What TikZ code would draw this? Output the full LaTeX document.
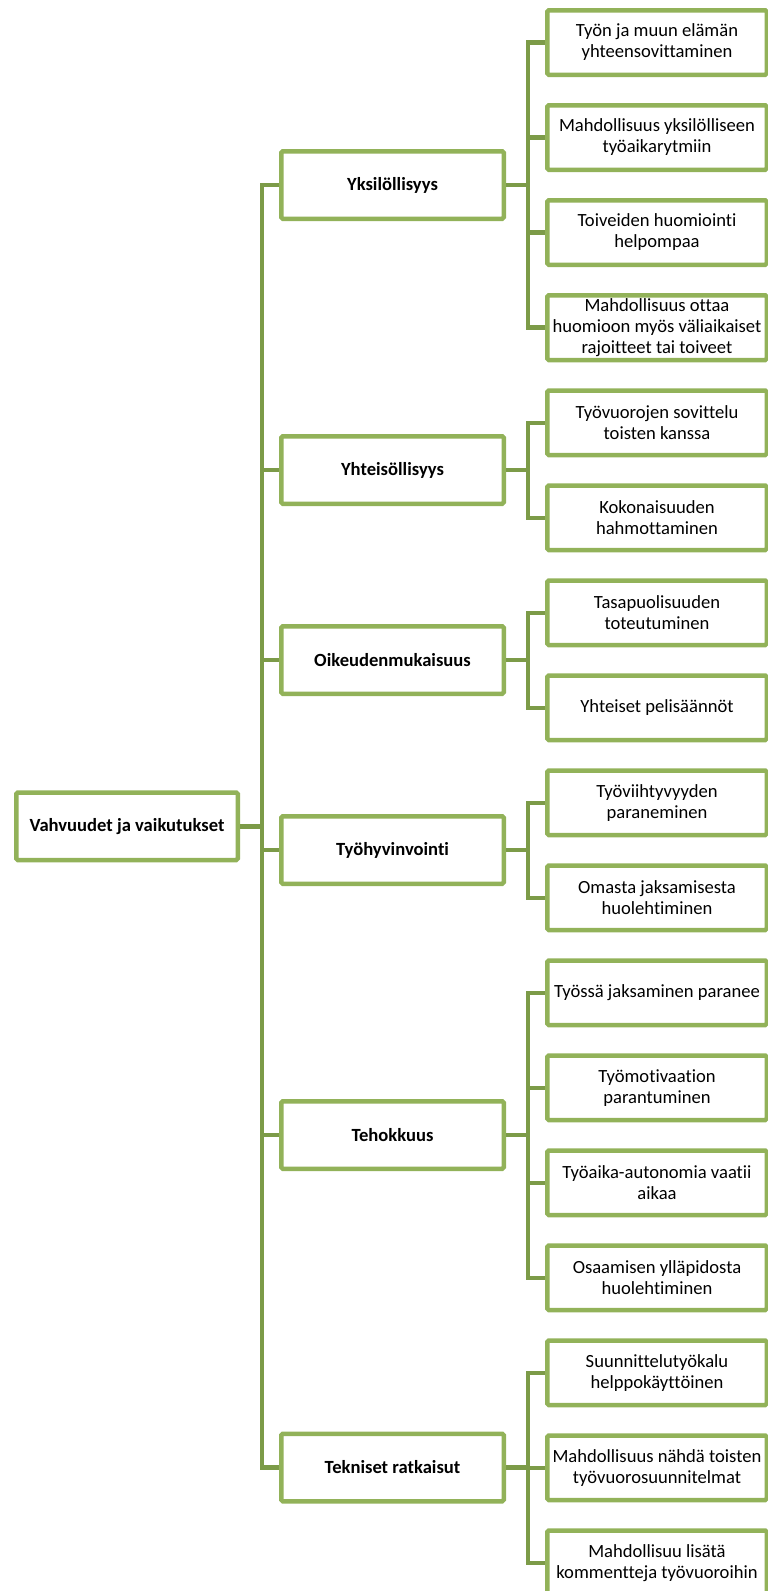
\documentclass[tikz,border=0pt]{standalone}
\usepackage{fontspec}
\setmainfont[Ligatures={NoCommon}]{Carlito}
\usepackage{xcolor}
\definecolor{boxgreen}{HTML}{92B259}
\definecolor{linegreen}{HTML}{7C9B48}
\usepackage{tikz}
\usetikzlibrary{positioning}

\begin{document}
\begin{tikzpicture}[
    x=1pt, y=-1pt,
    node distance=26pt,
    mainbox/.style={
        rectangle, draw=boxgreen, line width=4.5pt, rounded corners=1.5pt,
        fill=white, minimum width=221.5pt, minimum height=67.5pt,
        align=center, font=\fontsize{18.6}{21}\selectfont\bfseries
    },
    topic/.style={mainbox, minimum width=222.5pt},
    leaf/.style={
        rectangle, draw=boxgreen, line width=4.5pt, rounded corners=1.5pt,
        fill=white, minimum width=219.5pt, minimum height=64.5pt,
        inner xsep=2pt, align=center, font=\fontsize{18.6}{21}\selectfont
    },
    conn/.style={draw=linegreen, line width=4.5pt}
]
\useasboundingbox (0,0) rectangle (768,1591);
\clip (0,0) rectangle (768,1591);

% --- Juuri ja pääkohdat ---
\node[mainbox] (root) at (127,826.25) {Vahvuudet ja vaikutukset};
\node[topic] (yks) at (392.5,185)   {Yksilöllisyys};
\node[topic] (yht) at (392.5,470)   {Yhteisöllisyys};
\node[topic] (oik) at (392.5,660)   {Oikeudenmukaisuus};
\node[topic] (hyv) at (392.5,850)   {Työhyvinvointi};
\node[topic] (teh) at (392.5,1135)  {Tehokkuus};
\node[topic] (tek) at (392.5,1467.5) {Tekniset ratkaisut};

% --- Alakohdat ---
\node[leaf] (l1) at (657,42.5) {Työn ja muun elämän\\yhteensovittaminen};
\node[leaf, below=of l1] (l2) {Mahdollisuus yksilölliseen\\työaikarytmiin};
\node[leaf, below=of l2] (l3) {Toiveiden huomiointi\\helpompaa};
\node[leaf, below=of l3] (l4) {Mahdollisuus ottaa\\huomioon myös väliaikaiset\\rajoitteet tai toiveet};
\node[leaf, below=of l4] (l5) {Työvuorojen sovittelu\\toisten kanssa};
\node[leaf, below=of l5] (l6) {Kokonaisuuden\\hahmottaminen};
\node[leaf, below=of l6] (l7) {Tasapuolisuuden\\toteutuminen};
\node[leaf, below=of l7] (l8) {Yhteiset pelisäännöt};
\node[leaf, below=of l8] (l9) {Työviihtyvyyden\\paraneminen};
\node[leaf, below=of l9] (l10) {Omasta jaksamisesta\\huolehtiminen};
\node[leaf, below=of l10] (l11) {Työssä jaksaminen paranee};
\node[leaf, below=of l11] (l12) {Työmotivaation\\parantuminen};
\node[leaf, below=of l12] (l13) {Työaika-autonomia vaatii\\aikaa};
\node[leaf, below=of l13] (l14) {Osaamisen ylläpidosta\\huolehtiminen};
\node[leaf, below=of l14] (l15) {Suunnittelutyökalu\\helppokäyttöinen};
\node[leaf, below=of l15] (l16) {Mahdollisuus nähdä toisten\\työvuorosuunnitelmat};
\node[leaf, below=of l16] (l17) {Mahdollisuu lisätä\\kommentteja työvuoroihin};

% --- Yhteydet ---
\foreach \t in {yks,yht,oik,hyv,teh,tek}
    \draw[conn] (root.east) -- ++(21.75,0) |- (\t.west);
\foreach \t/\l in {yks/l1,yks/l2,yks/l3,yks/l4,
                   yht/l5,yht/l6,
                   oik/l7,oik/l8,
                   hyv/l9,hyv/l10,
                   teh/l11,teh/l12,teh/l13,teh/l14,
                   tek/l15,tek/l16,tek/l17}
    \draw[conn] (\t.east) -- ++(21.75,0) |- (\l.west);

\end{tikzpicture}
\end{document}
